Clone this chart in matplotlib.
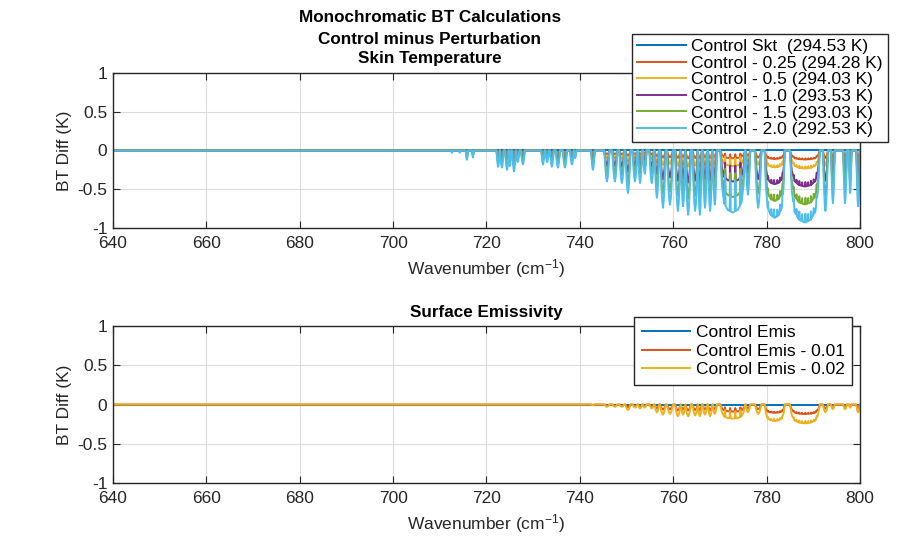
import numpy as np
import matplotlib.pyplot as plt

plt.rcParams['font.family'] = ['Liberation Sans', 'DejaVu Sans']
plt.rcParams['mathtext.fontset'] = 'custom'
plt.rcParams['mathtext.rm'] = 'Liberation Sans'
plt.rcParams['mathtext.it'] = 'Liberation Sans:italic'

# Window dips: centre (cm-1), width (cm-1),
# BT diff for Control - 2.0 K and for Control Emis - 0.02
dip_center = [712.6, 714.3, 715.8, 717.1,
              722.5, 723.3, 724.4, 725.0, 725.9, 726.7, 727.8,
              732.1, 733.0, 734.0, 735.3, 736.8, 738.3, 739.0,
              742.8, 745.8, 747.5, 749.0, 750.3, 751.8, 752.9, 753.9, 755.4,
              756.5, 757.8, 759.3, 761.0, 762.1, 763.2, 764.7, 765.7, 766.8,
              767.9, 768.9, 772.75, 776.0, 778.2,
              781.75, 788.2, 792.6, 794.2, 796.8, 797.9, 799.6]
dip_width = [0.3, 0.3, 0.5, 0.4,
             0.7, 0.8, 0.8, 0.6, 0.8, 0.7, 0.8,
             0.7, 0.7, 0.8, 0.9, 0.9, 0.8, 0.5,
             0.8, 1.1, 1.1, 1.1, 1.1, 1.0, 0.9, 0.8, 1.0,
             1.0, 1.2, 1.3, 1.2, 1.0, 1.2, 1.2, 0.9, 1.0,
             1.0, 0.9, 5.3, 1.0, 1.4,
             4.3, 6.4, 1.1, 0.8, 0.8, 0.6, 0.8]
skt_depth = [-0.03, -0.03, -0.12, -0.09,
             -0.21, -0.22, -0.25, -0.20, -0.27, -0.15, -0.18,
             -0.18, -0.15, -0.21, -0.22, -0.22, -0.18, -0.10,
             -0.25, -0.40, -0.40, -0.42, -0.55, -0.40, -0.42, -0.30, -0.42,
             -0.61, -0.74, -0.70, -0.78, -0.72, -0.83, -0.78, -0.83, -0.74,
             -0.78, -0.70, -0.80, -0.57, -0.74,
             -0.87, -0.93, -0.78, -0.68, -0.68, -0.55, -0.72]
emis_depth = [0.0, 0.0, 0.0, 0.0,
              0.0, 0.0, 0.0, 0.0, 0.0, 0.0, 0.0,
              0.0, 0.0, 0.0, 0.0, 0.0, 0.0, 0.0,
              -0.01, -0.03, -0.03, -0.03, -0.07, -0.04, -0.05, -0.04, -0.05,
              -0.10, -0.13, -0.12, -0.15, -0.13, -0.15, -0.14, -0.15, -0.13,
              -0.15, -0.12, -0.18, -0.10, -0.12,
              -0.21, -0.24, -0.10, -0.06, -0.06, -0.04, -0.10]

# absorption lines inside the broad windows (cm-1) and how far they pull back to 0
line_center = [771.1, 772.2, 773.3, 774.4,
               780.3, 781.0, 781.6, 782.3, 782.9, 783.4,
               785.8, 786.4, 787.0, 787.6, 788.3, 788.9, 789.5, 790.1, 790.7]
line_frac = [0.55, 0.5, 0.5, 0.55,
             0.12, 0.1, 0.12, 0.1, 0.12, 0.1,
             0.12, 0.1, 0.12, 0.1, 0.12, 0.1, 0.12, 0.1, 0.12]

skt_offsets = [0.0, 0.25, 0.5, 1.0, 1.5, 2.0]
skt_labels = ['Control Skt  (294.53 K)', 'Control - 0.25 (294.28 K)',
              'Control - 0.5 (294.03 K)', 'Control - 1.0 (293.53 K)',
              'Control - 1.5 (293.03 K)', 'Control - 2.0 (292.53 K)']
emis_offsets = [0.0, 0.01, 0.02]
emis_labels = ['Control Emis', 'Control Emis - 0.01', 'Control Emis - 0.02']

colors = ['#0072BD', '#D95319', '#EDB120', '#7E2F8E', '#77AC30', '#4DBEEE']
axis_col = '#262626'

# window profiles (fraction of width, fraction of depth)
u_f = np.array([0, 0.06, 0.15, 0.3, 0.5, 0.7, 0.85, 0.94, 1])
u_y = np.array([0, 0.55, 0.85, 0.96, 1, 0.96, 0.85, 0.55, 0])
v_f = np.array([0, 0.1, 0.22, 0.36, 0.5, 0.64, 0.78, 0.9, 1])
v_y = np.array([0, 0.3, 0.62, 0.88, 1, 0.88, 0.62, 0.3, 0])


def build_curve(depths, scale):
    xs = [640.0]
    ys = [0.0]
    for c, w, d in zip(dip_center, dip_width, depths):
        lo = c - w / 2
        if w > 3:
            px = lo + u_f * w
            py = u_y * d * scale
        else:
            px = lo + v_f * w
            py = v_y * d * scale
        teeth = [(t, f) for t, f in zip(line_center, line_frac)
                 if lo + 0.3 < t < lo + w - 0.3]
        if teeth:
            extra = []
            for t, f in teeth:
                extra += [t - 0.12, t, t + 0.12]
            fx = np.sort(np.concatenate([px, extra]))
            fy = np.interp(fx, px, py)
            for t, f in teeth:
                fy[np.argmin(np.abs(fx - t))] *= (1 - f)
            px, py = fx, fy
        xs += list(px)
        ys += list(py)
    xs.append(800.0)
    ys.append(0.0)
    return np.array(xs), np.array(ys)


def style_axes(ax):
    ax.set_xlim(640, 800)
    ax.set_ylim(-1, 1)
    ax.set_xticks(np.arange(640, 801, 20))
    ax.set_yticks([-1, -0.5, 0, 0.5, 1])
    ax.set_yticklabels(['-1', '-0.5', '0', '0.5', '1'])
    ax.grid(True, color='#dcdcdc', linewidth=0.8)
    ax.set_axisbelow(True)
    ax.tick_params(direction='in', top=True, right=True, length=5,
                   width=0.8, colors=axis_col, labelsize=12.5)
    ax.tick_params(axis='x', pad=6)
    ax.tick_params(axis='y', pad=4)
    for s in ax.spines.values():
        s.set_color(axis_col)
        s.set_linewidth(1.0)
    ax.set_xlabel('Wavenumber (cm$^{-1}$)', fontsize=12.5, color=axis_col, labelpad=4)
    ax.set_ylabel('BT Diff (K)', fontsize=12.5, color=axis_col, labelpad=4)


fig = plt.figure(figsize=(9.14, 5.41), dpi=100)
ax1 = fig.add_axes([0.1236, 0.5786, 0.8173, 0.2865])
ax2 = fig.add_axes([0.1236, 0.1072, 0.8173, 0.2902])

for i, off in enumerate(skt_offsets):
    x, y = build_curve(skt_depth, off / 2.0)
    ax1.plot(x, y, color=colors[i], linewidth=1.4, label=skt_labels[i])

for i, off in enumerate(emis_offsets):
    x, y = build_curve(emis_depth, off / 0.02)
    ax2.plot(x, y, color=colors[i], linewidth=1.4, label=emis_labels[i])

style_axes(ax1)
style_axes(ax2)

leg1 = ax1.legend(loc='upper left', bbox_to_anchor=(632 / 914, 1 - 34 / 541),
                  bbox_transform=fig.transFigure, fontsize=12.5, frameon=True,
                  fancybox=False, edgecolor=axis_col, framealpha=1,
                  borderpad=0.3, labelspacing=0.08, handlelength=2.8,
                  handletextpad=0.3, borderaxespad=0)
leg1.get_frame().set_linewidth(1.0)
leg2 = ax2.legend(loc='upper left', bbox_to_anchor=(634 / 914, 1 - 317 / 541),
                  bbox_transform=fig.transFigure, fontsize=12.5, frameon=True,
                  fancybox=False, edgecolor=axis_col, framealpha=1,
                  borderpad=0.45, labelspacing=0.2, handlelength=2.8,
                  handletextpad=0.3, borderaxespad=0)
leg2.get_frame().set_linewidth(1.0)

for txt, yy in [('Monochromatic BT Calculations', 18),
                ('Control minus Perturbation', 39),
                ('Skin Temperature', 59)]:
    fig.text(430 / 914, 1 - yy / 541, txt, ha='center', va='center',
             fontsize=12.3, fontweight='bold')
fig.text(486 / 914, 1 - 313 / 541, 'Surface Emissivity',
         ha='center', va='center', fontsize=12.3, fontweight='bold')

fig.savefig('out.png', dpi=100)
